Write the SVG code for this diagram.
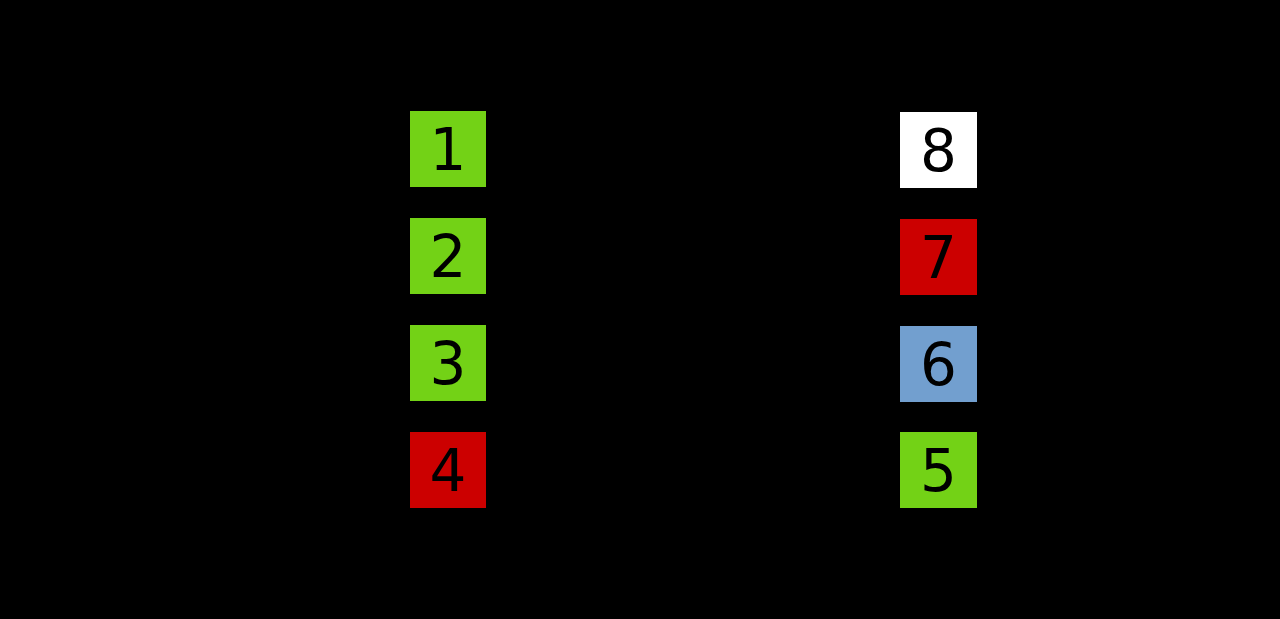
<svg xmlns="http://www.w3.org/2000/svg" width="1280" height="619" viewBox="0 0 1280 619">
<style>
text{font-family:"DejaVu Sans",sans-serif;font-size:58px;fill:#000;text-anchor:middle}
.g{fill:#73d216}.r{fill:#cc0000}.b{fill:#729fcf}.w{fill:#ffffff}
</style>
<rect width="1280" height="619" fill="#000"/>
<g id="connectors"/>
<g id="n1"><rect class="g" x="410" y="111" width="76" height="76"/><text x="448" y="170">1</text></g>
<g id="n2"><rect class="g" x="410" y="218" width="76" height="76"/><text x="448" y="277">2</text></g>
<g id="n3"><rect class="g" x="410" y="325" width="76" height="76"/><text x="448" y="384">3</text></g>
<g id="n4"><rect class="r" x="410" y="432" width="76" height="76"/><text x="448" y="491">4</text></g>
<g id="n8"><rect class="w" x="900" y="112" width="77" height="76"/><text x="938.500" y="171">8</text></g>
<g id="n7"><rect class="r" x="900" y="219" width="77" height="76"/><text x="938.500" y="278">7</text></g>
<g id="n6"><rect class="b" x="900" y="326" width="77" height="76"/><text x="938.500" y="385">6</text></g>
<g id="n5"><rect class="g" x="900" y="432" width="77" height="76"/><text x="938.500" y="491">5</text></g>
</svg>
